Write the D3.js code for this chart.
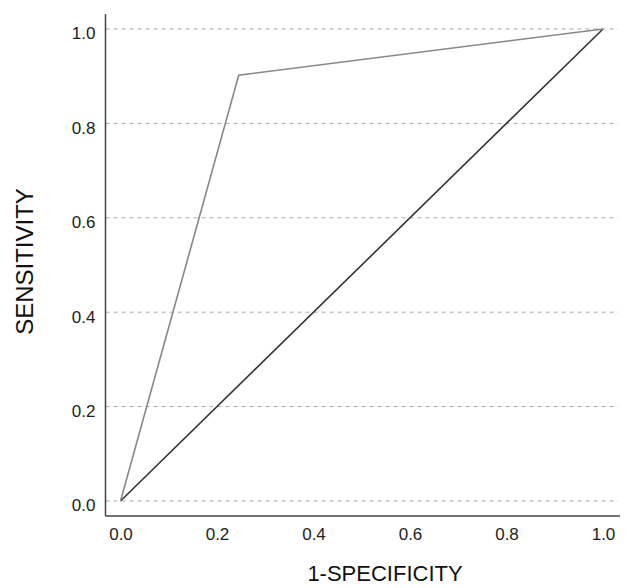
<!DOCTYPE html>
<html>
  <head>
    <meta charset="utf-8">
    <title>ROC curve</title>
    <script src="https://cdn.jsdelivr.net/npm/d3@7"></script>
    <style>
      body { margin: 0; background: #fff; font-family: "Liberation Sans", Arial, sans-serif; }
    </style>
  </head>
  <body>
    <svg id="chart" width="629" height="588"></svg>
    <script>
      // data
      ticks = [0, 0.2, 0.4, 0.6, 0.8, 1.0];
      rocX = [0, 0.245, 1];
      rocY = [0, 0.902, 1];
      refX = [0, 1];
      refY = [0, 1];

      chart = d3.select("#chart");

      x = d3.scaleLinear().domain([0, 1]).range([120.5, 603]);
      y = d3.scaleLinear().domain([0, 1]).range([501, 29]);

      axisLeft = 105.5;
      axisBottom = 516;
      font = "'Liberation Sans', Arial, sans-serif";

      // grid
      chart.append("g")
        .selectAll("line")
        .data(ticks)
        .enter().append("line")
          .attr("x1", axisLeft)
          .attr("x2", 618)
          .attr("y1", d => y(d))
          .attr("y2", d => y(d))
          .style("stroke", "#aaa")
          .style("stroke-width", 1)
          .style("stroke-dasharray", "4,4");

      line = d3.line().x(d => x(d[0])).y(d => y(d[1]));

      chart.append("path")
        .datum(refX.map((v, i) => [v, refY[i]]))
        .attr("d", line)
        .style("fill", "none")
        .style("stroke", "#333")
        .style("stroke-width", 1.6);

      chart.append("path")
        .datum(rocX.map((v, i) => [v, rocY[i]]))
        .attr("d", line)
        .style("fill", "none")
        .style("stroke", "#888")
        .style("stroke-width", 1.6);

      // axes
      yAxis = d3.axisLeft(y).tickValues(ticks).tickFormat(d3.format(".1f")).tickSize(0).tickPadding(10);
      xAxis = d3.axisBottom(x).tickValues(ticks).tickFormat(d3.format(".1f")).tickSize(0).tickPadding(12);

      yg = chart.append("g")
        .attr("transform", "translate(" + axisLeft + ",0)")
        .call(yAxis)
        .attr("font-size", 17)
        .attr("font-family", font);
      yg.select(".domain").remove();
      yg.selectAll(".tick text").attr("dy", "0.58em").attr("fill", "#222");

      xg = chart.append("g")
        .attr("transform", "translate(0," + axisBottom + ")")
        .call(xAxis)
        .attr("font-size", 17)
        .attr("font-family", font);
      xg.select(".domain").remove();
      xg.selectAll(".tick text").attr("fill", "#222");

      chart.append("line")
        .attr("x1", axisLeft).attr("x2", axisLeft)
        .attr("y1", 14).attr("y2", axisBottom)
        .style("stroke", "#444").style("stroke-width", 1.5);
      chart.append("line")
        .attr("x1", axisLeft).attr("x2", 620)
        .attr("y1", axisBottom).attr("y2", axisBottom)
        .style("stroke", "#444").style("stroke-width", 1.5);

      chart.append("text")
        .attr("x", 385)
        .attr("y", 581)
        .attr("text-anchor", "middle")
        .style("font-family", font)
        .style("font-size", "22px")
        .style("fill", "#111")
        .text("1-SPECIFICITY");

      chart.append("text")
        .attr("transform", "translate(33,261.5) rotate(-90)")
        .attr("text-anchor", "middle")
        .style("font-family", font)
        .style("font-size", "24px")
        .style("fill", "#111")
        .text("SENSITIVITY");
    </script>
  </body>
</html>
